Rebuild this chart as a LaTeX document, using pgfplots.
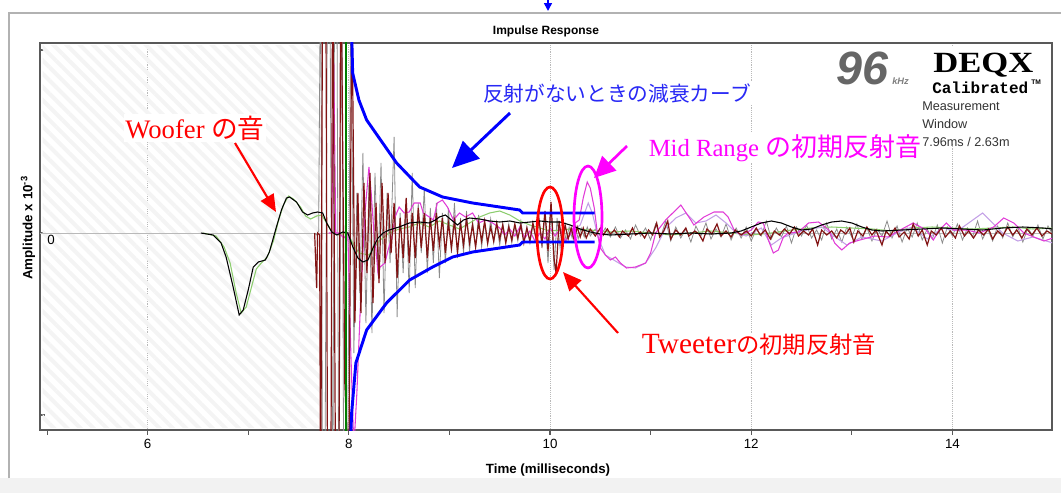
\documentclass[border=0pt]{standalone}
\usepackage{pgfplots}
\pgfplotsset{compat=1.18}
\usepackage{fontspec}
\setmainfont{Liberation Sans}
\newfontfamily\serif{Liberation Serif}
\newfontfamily\mono{Liberation Mono}
\newfontfamily\cjk{Noto Sans CJK JP}
\usetikzlibrary{arrows.meta,patterns.meta}
\definecolor{maroonc}{RGB}{130,20,20}
\definecolor{greyc}{RGB}{140,140,140}
\definecolor{magc}{RGB}{225,60,215}
\definecolor{lavc}{RGB}{195,160,230}
\definecolor{lgreen}{RGB}{140,205,110}
\definecolor{dgreen}{RGB}{0,125,0}
\definecolor{annred}{RGB}{255,0,0}
\definecolor{annmag}{RGB}{255,0,255}
\definecolor{annblue}{RGB}{40,40,245}
\begin{document}
\begin{tikzpicture}
\useasboundingbox (0,0) rectangle (795.75pt,-369.75pt);
\begin{scope}[x=0.75pt,y=-0.75pt]
\fill[gray!10] (0,478) rectangle (1061,493);
\draw[gray!60, line width=2.2pt] (9,478) -- (9,13) -- (1070,13);
\end{scope}
\begin{axis}[
  at={(30pt,-322.5pt)}, anchor=south west,
  width=759pt, height=290.25pt, scale only axis,
  xmin=4.93, xmax=14.99, ymin=-197, ymax=190,
  xtick={6,8,10,12,14}, minor xtick={5,7,9,11,13},
  xtick pos=bottom, ytick pos=left,
  xtick align=outside, ytick align=inside,
  xmajorgrids, grid style={gray!55, densely dotted, line width=0.6pt},
  ytick={-182,0,183}, yticklabels={,,},
  axis line style={draw=gray!70!black, line width=1.1pt},
  tick style={draw=gray!70!black, line width=0.8pt},
  major tick length=3.5pt, minor tick length=3.5pt,
  ticklabel style={font=\fontsize{10}{12}\selectfont},
  /pgf/number format/assume math mode=true,
]
\fill[pattern={Lines[angle=-45,distance=7pt,line width=3pt]}, pattern color=gray!9] (axis cs:4.955,-194) rectangle (axis cs:7.74,187.5);
\addplot[gray!55, line width=0.6pt] coordinates {(4.93,0)(15,0)};
% grey trace
\addplot[greyc, line width=0.6pt] coordinates {
(7.66,0)(7.68,-2)(7.70,2)(7.72,300)(7.74,-300)(7.76,-300)(7.79,300)(7.81,300)(7.84,-300)(7.86,300)(7.88,300)(7.90,-300)(7.93,300)(7.95,-300)(7.99,-200)(8.02,250)(8.05,-120)(8.08,40)(8.11,-60)(8.14,80)(8.17,-90)(8.20,50)(8.23,-100)(8.26,60)(8.29,-40)(8.32,70)(8.35,-80)(8.38,40)(8.41,-30)(8.45,96)(8.48,-84)(8.51,20)(8.54,-40)(8.57,30)(8.60,-60)(8.63,60)(8.66,-55)(8.69,30)(8.72,-20)(8.75,45)(8.78,-40)(8.81,25)(8.84,-30)(8.87,30)(8.90,-45)(8.93,20)(8.96,-30)(8.99,25)(9.02,-20)(9.05,30)(9.08,-25)(9.11,15)(9.14,-20)(9.17,22)(9.20,-18)(9.23,12)(9.26,-15)(9.29,18)(9.32,-14)(9.35,10)(9.38,-12)(9.41,14)(9.44,-10)(9.47,8)(9.50,-12)(9.53,10)(9.56,-8)(9.59,9)(9.62,-10)(9.65,7)(9.68,-8)(9.71,12)(9.74,-9)(9.77,6)(9.80,-10)(9.83,8)(9.86,-6)(9.89,12)(9.92,-15)(9.95,20)(9.98,-30)(10.01,28)(10.04,-37)(10.07,15)(10.10,-15)(10.13,10)(10.16,-8)(10.19,6)(10.22,-5)(10.25,8)(10.28,-6)(10.31,5)(10.34,-4)(10.37,6)(10.40,-3)(10.45,4)(10.50,-3)
(10.55,5)(10.60,-4)(10.65,6)(10.70,-5)(10.75,3)(10.80,-6)(10.85,8)(10.90,-3)(10.95,5)(11.00,-7)(11.05,9)(11.10,-4)(11.15,12)(11.20,-8)(11.25,6)(11.30,-5)(11.35,4)(11.40,-9)(11.45,7)(11.50,-3)(11.55,10)(11.60,-6)(11.65,4)(11.70,-4)(11.75,9)(11.80,-7)(11.85,5)(11.90,-5)(11.95,6)(12.00,-8)(12.05,4)(12.10,-3)(12.15,12)(12.20,-6)(12.25,5)(12.30,-4)(12.35,7)(12.40,-10)(12.45,6)(12.50,-3)(12.55,8)(12.60,-5)(12.65,3)(12.70,-7)(12.75,10)(12.80,-6)(12.85,4)(12.90,-9)(12.95,6)(13.00,-4)(13.05,9)(13.10,-6)(13.15,5)(13.20,-8)(13.25,4)(13.30,-3)(13.35,12)(13.40,-5)(13.45,7)(13.50,-9)(13.55,5)(13.60,-4)(13.65,10)(13.70,-7)(13.75,4)(13.80,-6)(13.85,8)(13.90,-10)(13.95,6)(14.00,-3)(14.05,9)(14.10,-7)(14.15,5)(14.20,-4)(14.25,12)(14.30,-6)(14.35,4)(14.40,-8)(14.45,7)(14.50,-5)(14.55,10)(14.60,-4)(14.65,6)(14.70,-9)(14.75,5)(14.80,-3)(14.85,8)(14.90,-6)(14.95,7)(15.00,-2)};
% light green trace
\addplot[lgreen, line width=0.8pt] coordinates {
(6.55,0)(6.68,-3)(6.76,-14)(6.82,-30)(6.88,-60)(6.93,-80)(6.98,-74)(7.03,-55)(7.08,-36)(7.13,-30)(7.19,-24)(7.25,-8)(7.30,12)(7.35,28)(7.40,37)(7.45,34)(7.52,26)(7.57,17)(7.62,14)(7.68,17)(7.73,18)(7.78,10)(7.84,0)(7.90,-2)(7.98,1)(8.05,-12)(8.10,-20)(8.20,-22)(8.30,-8)(8.40,0)(8.50,4)(8.60,6)(8.70,10)(8.80,6)(8.90,12)(9.00,8)(9.10,4)(9.20,10)(9.30,16)(9.40,20)(9.50,22)(9.60,18)(9.70,12)(9.80,8)(9.90,5)(10.00,2)(10.20,4)(10.40,3)(10.60,1)(10.80,2)(11.00,0)(11.20,-2)(11.40,0)(11.60,2)(11.80,0)(12.00,-2)(12.20,0)(12.40,3)(12.60,5)(12.80,6)(13.00,5)(13.20,4)(13.40,2)(13.60,5)(13.80,6)(14.00,5)(14.20,4)(14.40,5)(14.60,6)(14.80,4)(15.00,5)};
% lavender trace
\addplot[lavc, line width=0.8pt] coordinates {
(10.20,0)(10.30,8)(10.38,30)(10.42,20)(10.48,-5)(10.55,-22)(10.65,-28)(10.75,-34)(10.85,-35)(10.95,-30)(11.05,-15)(11.15,5)(11.25,15)(11.35,20)(11.45,10)(11.55,12)(11.65,18)(11.75,10)(11.85,0)(11.95,-3)(12.10,5)(12.20,-12)(12.30,-5)(12.50,2)(12.70,6)(12.85,-5)(12.95,-12)(13.10,-4)(13.30,-8)(13.45,0)(13.60,6)(13.75,-6)(13.90,5)(14.05,2)(14.30,20)(14.40,10)(14.50,0)(14.65,-8)(14.80,-4)(15.00,-10)};
% magenta trace
\addplot[magc, line width=0.8pt] coordinates {
(7.80,0)(7.83,0)(7.85,170)(7.87,0)(7.90,0)(7.95,-5)(7.99,0)(8.02,-120)(8.05,-215)(8.08,-160)(8.12,-60)(8.16,20)(8.20,66)(8.22,43)(8.25,0)(8.27,-17)(8.29,-40)(8.31,-34)(8.36,-30)(8.39,-17)(8.43,-4)(8.46,16)(8.50,26)(8.55,20)(8.60,21)(8.65,30)(8.71,30)(8.74,20)(8.80,16)(8.84,13)(8.88,30)(8.93,33)(8.98,26)(9.04,13)(9.10,20)(9.16,16)(9.23,20)(9.29,10)(9.36,13)(9.43,10)(9.50,5)(9.55,-2)(9.60,4)(9.65,-3)(9.70,6)(9.75,-5)(9.80,2)(9.85,-8)(9.90,0)(9.95,-6)(10.00,5)(10.05,-3)(10.10,4)(10.15,-8)(10.20,-2)(10.25,10)(10.29,13)(10.33,35)(10.37,51)(10.40,45)(10.44,25)(10.47,0)(10.50,-15)(10.55,-22)(10.60,-27)(10.65,-24)(10.70,-30)(10.76,-35)(10.85,-34)(10.95,-30)(11.00,-20)(11.05,0)(11.15,13)(11.30,28)(11.40,13)(11.43,8)(11.53,16)(11.63,21)(11.72,21)(11.77,16)(11.83,3)(11.90,-2)(12.00,3)(12.07,11)(12.12,10)(12.17,-7)(12.22,-20)(12.27,-17)(12.32,-4)(12.37,0)(12.47,1)(12.57,10)(12.67,11)(12.77,3)(12.83,-10)(12.90,-17)(12.98,-10)(13.08,-7)(13.23,-3)(13.36,-4)(13.48,3)(13.61,10)(13.74,3)(13.81,-7)(13.87,3)(13.94,10)(14.01,3)(14.14,3)(14.27,0)(14.41,6)(14.51,15)(14.61,10)(14.71,0)(14.81,-4)(14.91,-8)(15.00,-5)};
% maroon trace
\addplot[maroonc, line width=0.9pt] coordinates {
(7.66,0)(7.68,-55)(7.69,0)(7.71,-2)(7.72,-300)(7.74,300)(7.77,300)(7.79,-300)(7.82,-300)(7.84,300)(7.87,-300)(7.90,-300)(7.92,300)(7.96,-150)(8.00,-250)(8.03,250)(8.06,-90)(8.09,40)(8.12,-80)(8.15,50)(8.18,-40)(8.21,60)(8.24,-70)(8.27,30)(8.30,-50)(8.33,50)(8.36,-30)(8.39,40)(8.42,-20)(8.45,30)(8.48,-45)(8.51,15)(8.54,-25)(8.57,35)(8.60,-30)(8.63,20)(8.66,-25)(8.69,25)(8.72,-15)(8.75,20)(8.78,-25)(8.81,15)(8.84,-18)(8.87,20)(8.90,-12)(8.93,15)(8.96,-20)(8.99,10)(9.02,-15)(9.05,12)(9.08,-18)(9.11,10)(9.14,-12)(9.17,14)(9.20,-10)(9.23,8)(9.26,-14)(9.29,10)(9.32,-8)(9.35,12)(9.38,-10)(9.41,6)(9.44,-8)(9.47,10)(9.50,-6)(9.53,8)(9.56,-10)(9.59,6)(9.62,-7)(9.65,9)(9.68,-5)(9.71,8)(9.74,-10)(9.77,5)(9.80,-8)(9.83,10)(9.86,-5)(9.89,14)(9.92,-10)(9.95,22)(9.98,-18)(10.01,31)(10.04,-25)(10.06,-40)(10.09,12)(10.12,-10)(10.15,8)(10.18,-6)(10.21,5)(10.24,-7)(10.27,6)(10.30,-4)(10.33,5)(10.36,-5)(10.40,4)(10.45,-3)(10.50,5)
(10.53,-2)(10.57,4)(10.60,-1)(10.64,3)(10.69,-4)(10.72,2)(10.78,-3)(10.82,5)(10.85,-2)(10.90,1)(10.94,-5)(10.98,3)(11.02,-2)(11.06,10)(11.09,-4)(11.13,2)(11.17,12)(11.20,-6)(11.25,3)(11.30,-2)(11.35,5)(11.38,-3)(11.44,2)(11.48,-1)(11.52,-8)(11.56,4)(11.61,-1)(11.66,9)(11.70,-3)(11.75,2)(11.80,-4)(11.84,3)(11.90,-2)(11.95,2)(12.00,-3)(12.05,5)(12.09,-2)(12.14,3)(12.19,-6)(12.23,2)(12.28,-2)(12.33,4)(12.38,-1)(12.43,6)(12.47,-3)(12.52,2)(12.57,-2)(12.61,4)(12.66,-12)(12.70,3)(12.75,-2)(12.80,2)(12.85,-5)(12.89,3)(12.94,-1)(12.98,5)(13.02,-9)(13.06,2)(13.11,-3)(13.15,6)(13.20,-2)(13.24,3)(13.30,-12)(13.34,2)(13.38,-3)(13.43,5)(13.47,-4)(13.52,1)(13.57,-6)(13.61,9)(13.66,-3)(13.70,3)(13.75,-12)(13.79,2)(13.84,-2)(13.89,5)(13.93,-4)(13.98,2)(14.03,-5)(14.07,7)(14.12,-3)(14.16,2)(14.21,-5)(14.26,3)(14.31,-2)(14.36,4)(14.40,-6)(14.45,2)(14.50,-3)(14.55,6)(14.60,-2)(14.64,3)(14.69,-5)(14.74,4)(14.79,-2)(14.84,5)(14.89,-3)(14.94,2)(14.99,-1)};
% black trace
\addplot[black, line width=0.8pt] coordinates {
(6.53,0)(6.65,-2)(6.73,-10)(6.78,-24)(6.85,-54)(6.91,-82)(6.95,-77)(7.00,-57)(7.05,-34)(7.10,-29)(7.17,-27)(7.21,-19)(7.28,6)(7.33,23)(7.38,35)(7.41,36)(7.48,31)(7.54,21)(7.59,18)(7.64,20)(7.69,21)(7.74,20)(7.78,10)(7.83,1)(7.88,-2)(7.94,1)(7.99,0)(8.04,-14)(8.09,-25)(8.14,-29)(8.19,-27)(8.24,-15)(8.29,-5)(8.34,0)(8.40,3)(8.50,6)(8.60,10)(8.70,11)(8.80,10)(8.86,13)(8.90,16)(8.96,18)(9.02,13)(9.08,8)(9.14,13)(9.20,15)(9.30,14)(9.40,12)(9.50,11)(9.60,12)(9.70,10)(9.80,11)(9.90,12)(10.00,11)(10.10,11)(10.20,8)(10.30,4)(10.40,1)(10.50,-1)(10.60,-2)(10.80,-1)(11.00,0)(11.20,-1)(11.40,0)(11.60,-1)(11.80,0)(11.90,2)(12.00,6)(12.10,10)(12.20,12)(12.30,10)(12.40,6)(12.50,3)(12.60,4)(12.70,8)(12.80,11)(12.90,12)(13.00,10)(13.10,6)(13.20,3)(13.30,2)(13.50,3)(13.70,4)(13.90,5)(14.10,4)(14.30,3)(14.50,5)(14.70,6)(14.90,5)(15.00,4)};
% dark green vertical
\addplot[dgreen, line width=1.9pt] coordinates {(7.97,-300)(7.97,300)};
% decay envelopes
\addplot[blue, line width=2.2pt] coordinates {(8.028,200)(8.038,160)(8.10,133)(8.177,113)(8.475,70)(8.704,46)(8.932,36)(9.231,30)(9.499,26)(9.698,23)(9.728,20)(10.443,20)};
\addplot[blue, line width=2.2pt] coordinates {(8.020,-200)(8.028,-180)(8.07,-130)(8.177,-97)(8.375,-70)(8.604,-47)(8.833,-34)(9.032,-24)(9.231,-19)(9.499,-15)(9.698,-12)(9.728,-9)(10.443,-9)};
\end{axis}
\begin{scope}[x=0.75pt,y=-0.75pt]
\node at (51,240) {\fontsize{10}{12}\selectfont 0};
\node at (546,31) {\bfseries\fontsize{9}{10}\selectfont Impulse Response};
\node at (548,470) {\bfseries\fontsize{10}{12}\selectfont Time (milliseconds)};
\node[rotate=90] at (28,228) {\bfseries\fontsize{10}{12}\selectfont Amplitude x 10\textsuperscript{-3}};
\draw[blue, line width=1.2pt, -{Triangle[length=6pt,width=6pt]}] (548,-5) -- (548,11);
% logo
\fill[white] (832,46) rectangle (1048,143);
\node[anchor=base west, inner sep=0, text=gray!80!black] at (836,84) {\fontsize{35}{35}\selectfont\bfseries\itshape 96};
\node[anchor=base west, inner sep=0, text=gray] at (892,84) {\fontsize{7}{7}\selectfont\bfseries\itshape kHz};
\node[anchor=base west, inner sep=0] at (933,72) {\scalebox{1.18}[1]{\serif\bfseries\fontsize{22}{22}\selectfont DEQX}};
\node[anchor=base west, inner sep=0] at (932,93) {\mono\bfseries\fontsize{12}{12}\selectfont Calibrated};
\node[anchor=base west, inner sep=0] at (1031,84) {\bfseries\fontsize{5}{5}\selectfont TM};
\node[anchor=base west, inner sep=0, text=black!80] at (922,110) {\fontsize{9.5}{10}\selectfont Measurement};
\node[anchor=base west, inner sep=0, text=black!80] at (922,128) {\fontsize{9.5}{10}\selectfont Window};
\node[anchor=base west, inner sep=0, text=black!80] at (922,146) {\fontsize{9.5}{10}\selectfont 7.96ms / 2.63m};
% annotations
\node[fill=white, inner sep=1pt, text=annred] at (195,128) {\serif\fontsize{20}{20}\selectfont Woofer {\cjk の音}};
\draw[annred, line width=1.6pt, -{Triangle[length=13pt,width=11pt]}] (235,143) -- (276,212);
\node[fill=white, inner sep=1pt, text=annblue] at (617,93) {\cjk\fontsize{15.5}{16}\selectfont 反射がないときの減衰カーブ};
\draw[blue, line width=2.2pt, -{Triangle[length=20pt,width=18pt]}] (510,113) -- (452,168);
\node[fill=white, inner sep=1pt, text=annmag] at (785,148) {\serif\fontsize{18.5}{19}\selectfont Mid Range {\cjk\fontsize{19.5}{20}\selectfont の初期反射音}};
\draw[annmag, line width=2pt, -{Triangle[length=16pt,width=15pt]}] (627,146) -- (594,178);
\draw[annmag, line width=2pt] (588,217) ellipse [x radius=10.5pt, y radius=38.25pt];
\draw[annred, line width=2pt] (550,233) ellipse [x radius=9.75pt, y radius=34.5pt];
\node[fill=white, inner sep=1pt, text=annred] at (759,345) {\serif\fontsize{22}{22}\selectfont Tweeter{\cjk\fontsize{17.5}{18}\selectfont の初期反射音}};
\draw[annred, line width=1.6pt, -{Triangle[length=14pt,width=12pt]}] (618,333) -- (563,272);
\end{scope}
\end{tikzpicture}
\end{document}
